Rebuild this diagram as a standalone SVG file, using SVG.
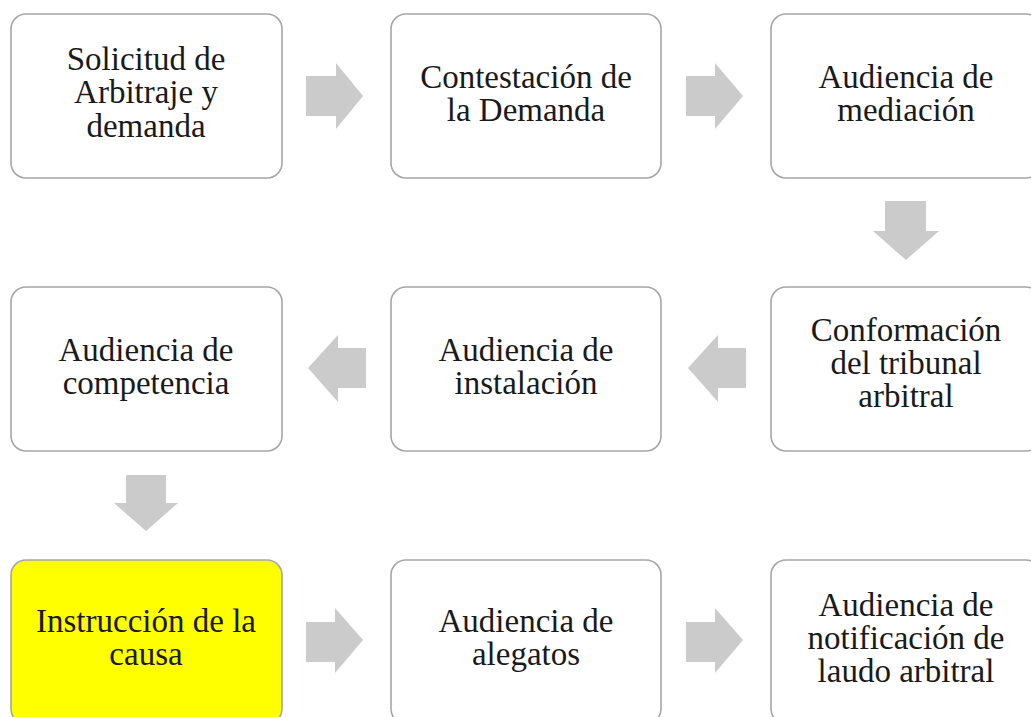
<svg xmlns="http://www.w3.org/2000/svg" width="1031" height="717" viewBox="0 0 1031 717">
<style>
.box{fill:#ffffff;stroke:#a6a6a6;stroke-width:1.6}
.hl{fill:#ffff00;stroke:#a6a6a6;stroke-width:1.6}
.t{font-family:'Liberation Serif','DejaVu Serif',serif;font-size:33px;fill:#1a1a1a;text-anchor:middle}
.arr{fill:#cbcbcb}
</style>
<rect width="1031" height="717" fill="#ffffff"/>
<g id="connectors">
<polygon class="arr" points="306,76 336,76 336,63 363,96 336,129 336,116 306,116"/>
<polygon class="arr" points="686,76 715,76 715,63 743,96 715,129 715,116 686,116"/>
<polygon class="arr" points="885,201 926,201 926,231 939,231 906,260 873,231 885,231"/>
<polygon class="arr" points="746,348 718,348 718,335 688,368 718,402 718,388 746,388"/>
<polygon class="arr" points="366,348 338,348 338,335 308,368 338,402 338,388 366,388"/>
<polygon class="arr" points="126,475 166,475 166,503 178,503 146,531 114,503 126,503"/>
<polygon class="arr" points="306,622 335,622 335,608 363,640 335,673 335,662 306,662"/>
<polygon class="arr" points="686,622 715,622 715,608 743,640 715,673 715,662 686,662"/>
</g>
<g id="n1"><rect class="box" x="11" y="14" width="271" height="164" rx="15"/>
<text class="t" x="146" y="70">Solicitud de</text><text class="t" x="146" y="103">Arbitraje y</text><text class="t" x="146" y="137">demanda</text></g>
<g id="n2"><rect class="box" x="391" y="14" width="270" height="164" rx="15"/>
<text class="t" x="526" y="88">Contestación de</text><text class="t" x="526" y="121">la Demanda</text></g>
<g id="n3"><rect class="box" x="771" y="14" width="270" height="164" rx="15"/>
<text class="t" x="906" y="88">Audiencia de</text><text class="t" x="906" y="121">mediación</text></g>
<g id="n4"><rect class="box" x="11" y="287" width="271" height="164" rx="15"/>
<text class="t" x="146" y="361">Audiencia de</text><text class="t" x="146" y="394">competencia</text></g>
<g id="n5"><rect class="box" x="391" y="287" width="270" height="164" rx="15"/>
<text class="t" x="526" y="361">Audiencia de</text><text class="t" x="526" y="394">instalación</text></g>
<g id="n6"><rect class="box" x="771" y="287" width="270" height="164" rx="15"/>
<text class="t" x="906" y="341">Conformación</text><text class="t" x="906" y="374">del tribunal</text><text class="t" x="906" y="407">arbitral</text></g>
<g id="n7"><rect class="hl" x="11" y="560" width="271" height="164" rx="15"/>
<text class="t" x="146" y="632">Instrucción de la</text><text class="t" x="146" y="665">causa</text></g>
<g id="n8"><rect class="box" x="391" y="560" width="270" height="164" rx="15"/>
<text class="t" x="526" y="632">Audiencia de</text><text class="t" x="526" y="665">alegatos</text></g>
<g id="n9"><rect class="box" x="771" y="560" width="270" height="164" rx="15"/>
<text class="t" x="906" y="616">Audiencia de</text><text class="t" x="906" y="649">notificación de</text><text class="t" x="906" y="682">laudo arbitral</text></g>
</svg>
